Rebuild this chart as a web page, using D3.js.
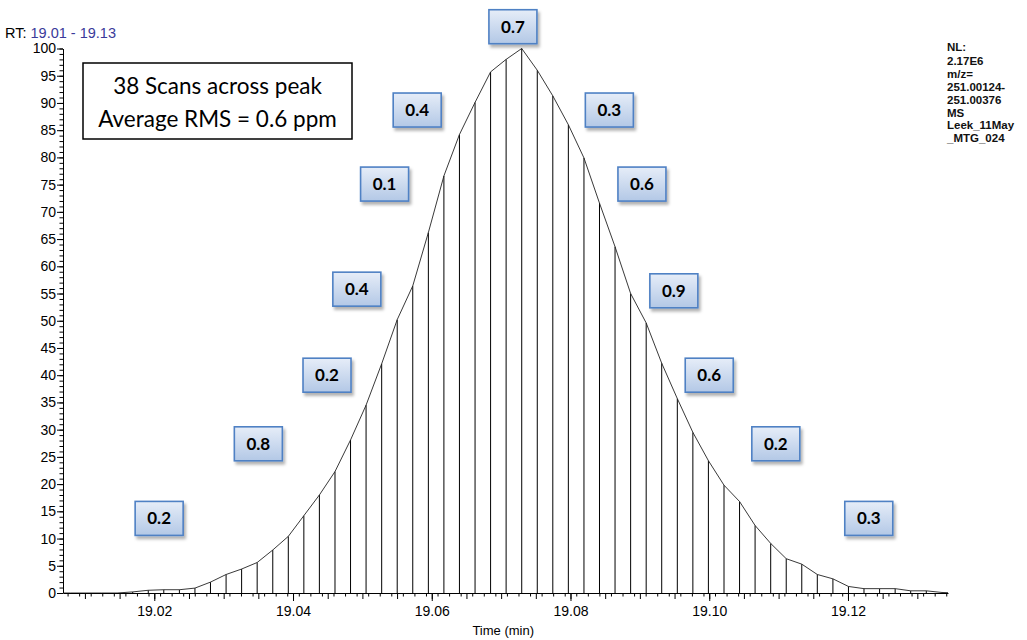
<!DOCTYPE html>
<html>
<head>
<meta charset="utf-8">
<script src="https://cdn.jsdelivr.net/npm/d3@7"></script>
<style>
  body { margin: 0; background: #fff; }
  svg { display: block; }
</style>
</head>
<body>
<svg></svg>
<script>
// scan times (min) and relative abundance
const scanTimes = [
  19.00567, 19.00791, 19.01016, 19.01240, 19.01464,
  19.01689, 19.01913, 19.02137, 19.02362, 19.02586, 19.02810, 19.03035, 19.03259,
  19.03483, 19.03708, 19.03932, 19.04156, 19.04380, 19.04605, 19.04829, 19.05053,
  19.05278, 19.05502, 19.05726, 19.05951, 19.06175, 19.06399, 19.06624, 19.06848,
  19.07072, 19.07297, 19.07521, 19.07745, 19.07969, 19.08194, 19.08418, 19.08642,
  19.08867, 19.09091, 19.09315, 19.09540, 19.09764, 19.09988, 19.10213, 19.10437,
  19.10661, 19.10886, 19.11110, 19.11334, 19.11558, 19.11783, 19.12007, 19.12231,
  19.12456, 19.12680, 19.12904, 19.13129, 19.13353, 19.13577
];
const abundance = [
  0, 0, 0, 0, 0,
  0.2, 0.5, 0.6, 0.6, 0.9, 2.0, 3.4, 4.4,
  5.6, 7.9, 10.4, 14.2, 18.0, 22.3, 28.1, 34.5,
  42.1, 50.2, 56.4, 66.2, 76.6, 84.2, 90.1, 95.7,
  98.0, 100, 96.0, 91.3, 86.0, 79.9, 71.6, 63.6,
  55.0, 49.6, 42.2, 35.7, 29.5, 24.3, 19.8, 16.8,
  12.4, 9.1, 6.3, 5.3, 3.4, 2.6, 1.2, 0.8,
  0.8, 0.8, 0.4, 0.4, 0.1, 0
];

// mass error boxes (ppm) and where they sit
const ppmLabels = ['0.2', '0.8', '0.2', '0.4', '0.1', '0.4', '0.7', '0.3', '0.6', '0.9', '0.6', '0.2', '0.3'];
const ppmTimes  = [19.0207, 19.0350, 19.0449, 19.0492, 19.0532, 19.0579, 19.0717, 19.0856, 19.0903, 19.0949, 19.1000, 19.1096, 19.1230];
const ppmLevels = [13.7, 27.4, 40.0, 55.8, 75.1, 88.7, 104.0, 88.7, 75.1, 55.5, 40.0, 27.4, 13.7];

const xTicks = [19.02, 19.04, 19.06, 19.08, 19.10, 19.12];
const yTicks = [0, 5, 10, 15, 20, 25, 30, 35, 40, 45, 50, 55, 60, 65, 70, 75, 80, 85, 90, 95, 100];
const infoLines = ['NL:', '2.17E6', 'm/z=', '251.00124-', '251.00376', 'MS', 'Leek_11May', '_MTG_024'];

const width = 1027, height = 640;
const margin = {top: 48.5, right: 79, bottom: 47, left: 63};
const innerW = width - margin.left - margin.right;
const innerH = height - margin.top - margin.bottom;

const svg = d3.select('svg')
  .attr('width', width)
  .attr('height', height)
  .style('font-family', '"Liberation Sans", Arial, sans-serif');

const defs = svg.append('defs');
const grad = defs.append('linearGradient')
  .attr('id', 'boxFill').attr('x1', 0).attr('y1', 0).attr('x2', 0).attr('y2', 1);
grad.append('stop').attr('offset', '0%').attr('stop-color', '#e6edf8');
grad.append('stop').attr('offset', '100%').attr('stop-color', '#b3c8e6');
defs.append('filter').attr('id', 'shadow')
  .attr('x', '-20%').attr('y', '-20%').attr('width', '150%').attr('height', '160%')
  .append('feDropShadow')
  .attr('dx', 2).attr('dy', 3).attr('stdDeviation', 1.8)
  .attr('flood-color', '#000').attr('flood-opacity', 0.3);
defs.append('clipPath').attr('id', 'plotClip')
  .append('rect').attr('x', 0).attr('y', -10).attr('width', innerW).attr('height', innerH + 10);

const data = scanTimes.map((t, i) => ({t, v: abundance[i]}));

const x = d3.scaleLinear().domain([19.00684, 19.13442]).range([0, innerW]);
const y = d3.scaleLinear().domain([0, 100]).range([innerH, 0]);

const g = svg.append('g')
  .attr('transform', `translate(${margin.left},${margin.top})`);

// stems + profile
const plot = g.append('g').attr('clip-path', 'url(#plotClip)');
plot.selectAll('line.stem').data(data.filter(d => d.v > 0))
  .enter().append('line')
  .attr('class', 'stem')
  .attr('x1', d => x(d.t)).attr('x2', d => x(d.t))
  .attr('y1', y(0)).attr('y2', d => y(d.v))
  .attr('stroke', '#000').attr('stroke-width', 1);

plot.append('path')
  .datum(data)
  .attr('fill', 'none')
  .attr('stroke', '#222')
  .attr('stroke-width', 0.9)
  .attr('d', d3.line().x(d => x(d.t)).y(d => y(d.v)));

// axes
const styleAxis = sel => {
  sel.selectAll('path, line').attr('stroke', '#000');
  sel.selectAll('text').attr('fill', '#000').style('font-size', '14px')
    .style('font-family', '"Liberation Sans", Arial, sans-serif');
};

const minorX = d3.range(0, 78).map(i => 19.0075 + i * 0.005 / 3).filter(v => v < 19.1344);
const midX = d3.range(19.01, 19.1344, 0.005);

g.append('g').attr('transform', `translate(0,${innerH})`)
  .call(d3.axisBottom(x).tickValues(minorX).tickSize(3.5).tickFormat(''))
  .call(s => s.select('.domain').remove())
  .call(styleAxis);
g.append('g').attr('transform', `translate(0,${innerH})`)
  .call(d3.axisBottom(x).tickValues(midX).tickSize(6).tickFormat(''))
  .call(s => s.select('.domain').remove())
  .call(styleAxis);
g.append('g').attr('transform', `translate(0,${innerH})`)
  .call(d3.axisBottom(x).tickValues(xTicks).tickSize(8).tickPadding(5).tickSizeOuter(0).tickFormat(d3.format('.2f')))
  .call(styleAxis);

g.append('g')
  .call(d3.axisLeft(y).tickValues(d3.range(0, 101, 1)).tickSize(3.5).tickFormat(''))
  .call(s => s.select('.domain').remove())
  .call(styleAxis);
g.append('g')
  .call(d3.axisLeft(y).tickValues(yTicks).tickSize(6).tickPadding(1).tickSizeOuter(0))
  .call(styleAxis);

g.append('text')
  .attr('x', x(19.0703)).attr('y', innerH + 42)
  .attr('text-anchor', 'middle')
  .style('font-size', '13px')
  .text('Time (min)');

// header
const rt = svg.append('text').attr('x', 5).attr('y', 38).style('font-size', '14.5px');
rt.append('tspan').attr('fill', '#000').text('RT: ');
rt.append('tspan').attr('fill', '#3a3a9a').text('19.01 - 19.13');

svg.append('g').selectAll('text').data(infoLines)
  .enter().append('text')
  .attr('x', 947)
  .attr('y', (d, i) => 51 + i * 12.9 + (i > 0 ? 1 : 0))
  .style('font-size', '11.5px')
  .style('font-weight', 'bold')
  .attr('fill', '#111')
  .text(d => d);

// summary box
const note = svg.append('g').attr('transform', 'translate(83,63)');
note.append('rect').attr('width', 269).attr('height', 76)
  .attr('fill', '#fff').attr('stroke', '#000').attr('stroke-width', 1.5);
note.selectAll('text').data(['38 Scans across peak', 'Average RMS = 0.6 ppm'])
  .enter().append('text')
  .attr('x', 134.5).attr('y', (d, i) => 31 + i * 33)
  .attr('text-anchor', 'middle')
  .style('font-family', 'Lato, "Open Sans", sans-serif')
  .style('font-size', '22.5px')
  .text(d => d);

// ppm boxes
const boxW = 48, boxH = 34;
const boxes = g.selectAll('g.ppm').data(ppmLabels)
  .enter().append('g')
  .attr('class', 'ppm')
  .attr('transform', (d, i) => `translate(${x(ppmTimes[i]) - boxW / 2},${y(ppmLevels[i]) - boxH / 2})`);
boxes.append('rect')
  .attr('width', boxW).attr('height', boxH)
  .attr('fill', 'url(#boxFill)')
  .attr('stroke', '#4f81c4').attr('stroke-width', 1.6)
  .attr('filter', 'url(#shadow)');
boxes.append('text')
  .attr('x', boxW / 2).attr('y', boxH / 2 + 6)
  .attr('text-anchor', 'middle')
  .style('font-family', 'Lato, "Open Sans", sans-serif')
  .style('font-weight', 'bold')
  .style('font-size', '17px')
  .attr('fill', '#000')
  .text(d => d);
</script>
</body>
</html>
